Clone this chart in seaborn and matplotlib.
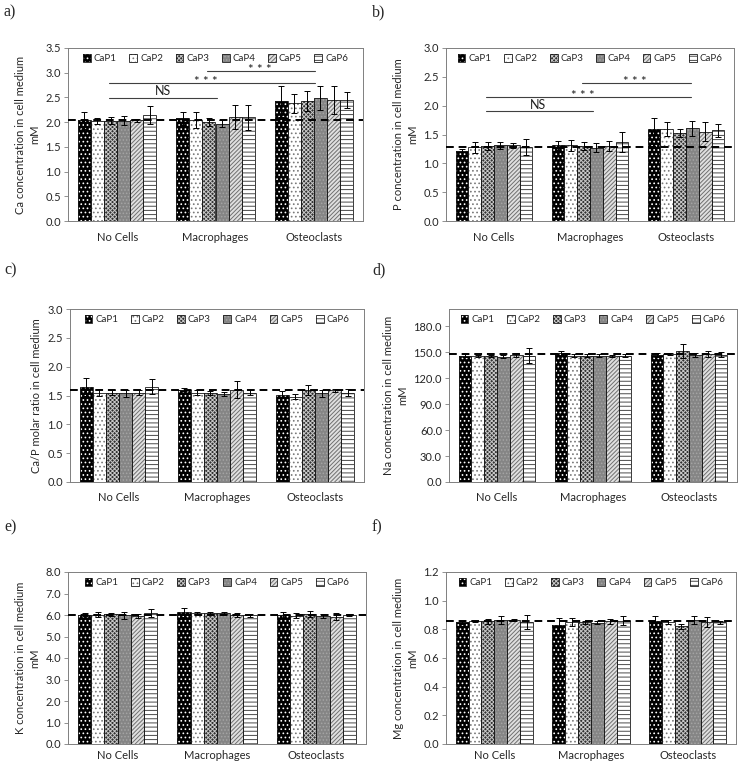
import matplotlib
matplotlib.use("Agg")
import matplotlib.pyplot as plt
from matplotlib.patches import Patch, Rectangle
from matplotlib.legend_handler import HandlerTuple
import seaborn as sns
import pandas as pd

sns.set_theme(style="white")
plt.rcParams['font.family'] = ['Lato', 'DejaVu Sans']
plt.rcParams['hatch.linewidth'] = 0.7

groups = ["No Cells", "Macrophages", "Osteoclasts"]
series = ["CaP1", "CaP2", "CaP3", "CaP4", "CaP5", "CaP6"]

# values: one list per group, ordered CaP1..CaP6
ca_mean = [[2.04, 2.03, 2.03, 2.03, 2.04, 2.14],
           [2.08, 2.04, 2.00, 1.97, 2.10, 2.10],
           [2.42, 2.38, 2.42, 2.49, 2.45, 2.44]]
ca_err = [[0.175, 0.06, 0.07, 0.09, 0.03, 0.185],
          [0.135, 0.16, 0.08, 0.07, 0.24, 0.25],
          [0.315, 0.19, 0.20, 0.24, 0.285, 0.16]]
p_mean = [[1.22, 1.28, 1.305, 1.31, 1.31, 1.29],
          [1.31, 1.31, 1.30, 1.27, 1.30, 1.365],
          [1.60, 1.59, 1.52, 1.61, 1.55, 1.57]]
p_err = [[0.02, 0.095, 0.07, 0.065, 0.05, 0.14],
         [0.08, 0.095, 0.075, 0.08, 0.09, 0.175],
         [0.18, 0.12, 0.07, 0.13, 0.16, 0.11]]
cap_mean = [[1.65, 1.55, 1.55, 1.54, 1.55, 1.65],
            [1.60, 1.55, 1.54, 1.53, 1.60, 1.55],
            [1.51, 1.48, 1.60, 1.54, 1.59, 1.55]]
cap_err = [[0.16, 0.06, 0.04, 0.06, 0.04, 0.13],
           [0.03, 0.04, 0.03, 0.03, 0.15, 0.04],
           [0.06, 0.04, 0.09, 0.06, 0.03, 0.06]]
na_mean = [[146, 146, 146, 145, 147, 146],
           [149, 146, 146, 146, 146, 146],
           [147, 148, 151, 147, 148, 147]]
na_err = [[1.5, 1, 1, 2, 2, 9],
          [3, 2, 2, 2, 1, 2],
          [2, 1, 8, 2, 3, 3]]
k_mean = [[6.02, 6.02, 6.03, 5.98, 5.95, 6.10],
          [6.12, 6.08, 6.08, 6.08, 6.00, 5.98],
          [6.00, 5.97, 6.05, 5.95, 5.93, 6.00]]
k_err = [[0.05, 0.10, 0.08, 0.15, 0.08, 0.20],
         [0.22, 0.05, 0.05, 0.05, 0.08, 0.06],
         [0.12, 0.10, 0.15, 0.10, 0.15, 0.04]]
mg_mean = [[0.85, 0.855, 0.855, 0.865, 0.865, 0.85],
           [0.833, 0.85, 0.85, 0.845, 0.855, 0.86],
           [0.855, 0.85, 0.82, 0.865, 0.85, 0.85]]
mg_err = [[0.01, 0.005, 0.015, 0.025, 0.01, 0.05],
          [0.045, 0.03, 0.01, 0.01, 0.015, 0.03],
          [0.035, 0.015, 0.02, 0.025, 0.035, 0.01]]

ref_levels = [2.04, 1.28, 1.60, 147.5, 6.0, 0.855]
ylabels = ["Ca concentration in cell medium\nmM",
           "P concentration in cell medium\nmM",
           "Ca/P molar ratio in cell medium",
           "Na concentration in cell medium\nmM",
           "K concentration in cell medium\nmM",
           "Mg concentration in cell medium\nmM"]
panel_tags = ["a)", "b)", "c)", "d)", "e)", "f)"]
ylims = [(0, 3.5), (0, 3.0), (0, 3.0), (0, 200), (0, 8), (0, 1.2)]
ysteps = [0.5, 0.5, 0.5, 30, 1.0, 0.2]

# significance brackets: (x_start, x_end, y, label)
sig_a = [(-0.08, 1.02, 2.49, "NS"), (-0.08, 2.01, 2.79, "***"), (0.91, 2.01, 3.04, "***")]
sig_a_text = [(0.47, 2.50), (0.90, 2.73), (1.45, 2.98)]
sig_b = [(-0.08, 1.03, 1.90, "NS"), (-0.08, 2.05, 2.155, "***"), (0.92, 2.05, 2.39, "***")]
sig_b_text = [(0.46, 1.91), (0.93, 2.10), (1.47, 2.335)]

# styles: (face, hatch colour, hatch)
styles = [("#000000", "#ffffff", "...."),
          ("#ffffff", "#7a7a7a", "...."),
          ("#303030", "#c8c8c8", "xxxxxxxx"),
          ("#858585", "#a5a5a5", "....."),
          ("#e0e0e0", "#707070", "////////"),
          ("#ffffff", "#4a4a4a", "----")]

# axes boxes in pixels (left, right, top, bottom)
W, H = 740, 767
boxes = [(68, 363, 48, 221), (446, 734, 48, 221),
         (70, 364, 309, 482), (449, 737, 309, 482),
         (68, 366, 572, 744), (446, 736, 572, 744)]
xpads = [8, 8, 7.5, 7.5, 4.5, 4.5]
tag_pos = [(4, 12), (372, 12), (4, 270), (372, 270), (4, 527), (372, 527)]

means = [ca_mean, p_mean, cap_mean, na_mean, k_mean, mg_mean]
errs = [ca_err, p_err, cap_err, na_err, k_err, mg_err]

fig = plt.figure(figsize=(W / 100, H / 100), dpi=100)

for i in range(6):
    l, r, t, b = boxes[i]
    ax = fig.add_axes([l / W, 1 - b / H, (r - l) / W, (b - t) / H])
    rows = []
    for g, grp in enumerate(groups):
        for s, ser in enumerate(series):
            rows.append({"group": grp, "series": ser,
                         "value": means[i][g][s], "err": errs[i][g][s]})
    df = pd.DataFrame(rows)
    sns.barplot(data=df, x="group", y="value", hue="series", order=groups,
                hue_order=series, errorbar=None, width=0.8, ax=ax,
                legend=False, saturation=1)
    bar_containers = list(ax.containers)
    for s, cont in enumerate(bar_containers):
        face, hc, hatch = styles[s]
        sub = df[df["series"] == series[s]].set_index("group").loc[groups]
        for j, p in enumerate(cont.patches):
            p.set_facecolor(face)
            p.set_edgecolor(hc)
            p.set_hatch(hatch)
            p.set_linewidth(0)
            ax.add_patch(Rectangle(p.get_xy(), p.get_width(), p.get_height(),
                                   fill=False, edgecolor="#1a1a1a", lw=0.6, zorder=3))
            ax.errorbar(p.get_x() + p.get_width() / 2, p.get_height(),
                        yerr=sub["err"].iloc[j], fmt="none", ecolor="#000000",
                        elinewidth=0.7, capsize=2, capthick=0.7, zorder=4)
    ax.axhline(ref_levels[i], color="black", ls=(0, (4, 2.5)), lw=1.4, zorder=5)
    ax.set_ylim(*ylims[i])
    ax.set_xlim(-0.5, 2.5)
    step = ysteps[i]
    n = int(round((ylims[i][1] - 0) / step)) + 1
    ticks = [k * step for k in range(n) if k * step <= ylims[i][1] + 1e-9]
    ax.set_yticks(ticks)
    ax.set_yticklabels([f"{v:.1f}" for v in ticks])
    ax.tick_params(axis="y", length=3, width=0.6, color="#808080",
                   labelsize=8, pad=2, left=True)
    ax.tick_params(axis="x", length=0, labelsize=8, pad=xpads[i])
    ax.set_xlabel("")
    ax.set_ylabel(ylabels[i], fontsize=8, labelpad=4, linespacing=1.3)
    for sp in ax.spines.values():
        sp.set_color("#7f7f7f")
        sp.set_linewidth(0.7)
    handles = [(Patch(facecolor=styles[s][0], edgecolor=styles[s][1],
                      hatch=styles[s][2], lw=0),
                Patch(facecolor="none", edgecolor="#1a1a1a", lw=0.6))
               for s in range(6)]
    ax.legend(handles, series, loc="upper center", ncol=6, frameon=False,
              fontsize=7, handlelength=0.8, handleheight=0.8,
              handletextpad=0.3, columnspacing=1.3, borderaxespad=0.25,
              handler_map={tuple: HandlerTuple(ndivide=1, pad=0)})
    if i in (0, 1):
        sig = sig_a if i == 0 else sig_b
        txt = sig_a_text if i == 0 else sig_b_text
        for (x0, x1, y, lab), (tx, ty) in zip(sig, txt):
            ax.plot([x0, x1], [y, y], color="#404040", lw=0.8, zorder=5)
            if lab == "NS":
                ax.text(tx, ty, lab, ha="center", va="bottom", fontsize=9,
                        color="#202020")
            else:
                ax.text(tx, ty, "* * *", ha="center", va="baseline",
                        fontsize=9.5, color="#202020")
    fig.text(tag_pos[i][0] / W, 1 - tag_pos[i][1] / H, panel_tags[i],
             fontsize=11.5, family=["Liberation Serif", "DejaVu Serif"],
             va="center", ha="left")

fig.savefig("out.png", dpi=100)
